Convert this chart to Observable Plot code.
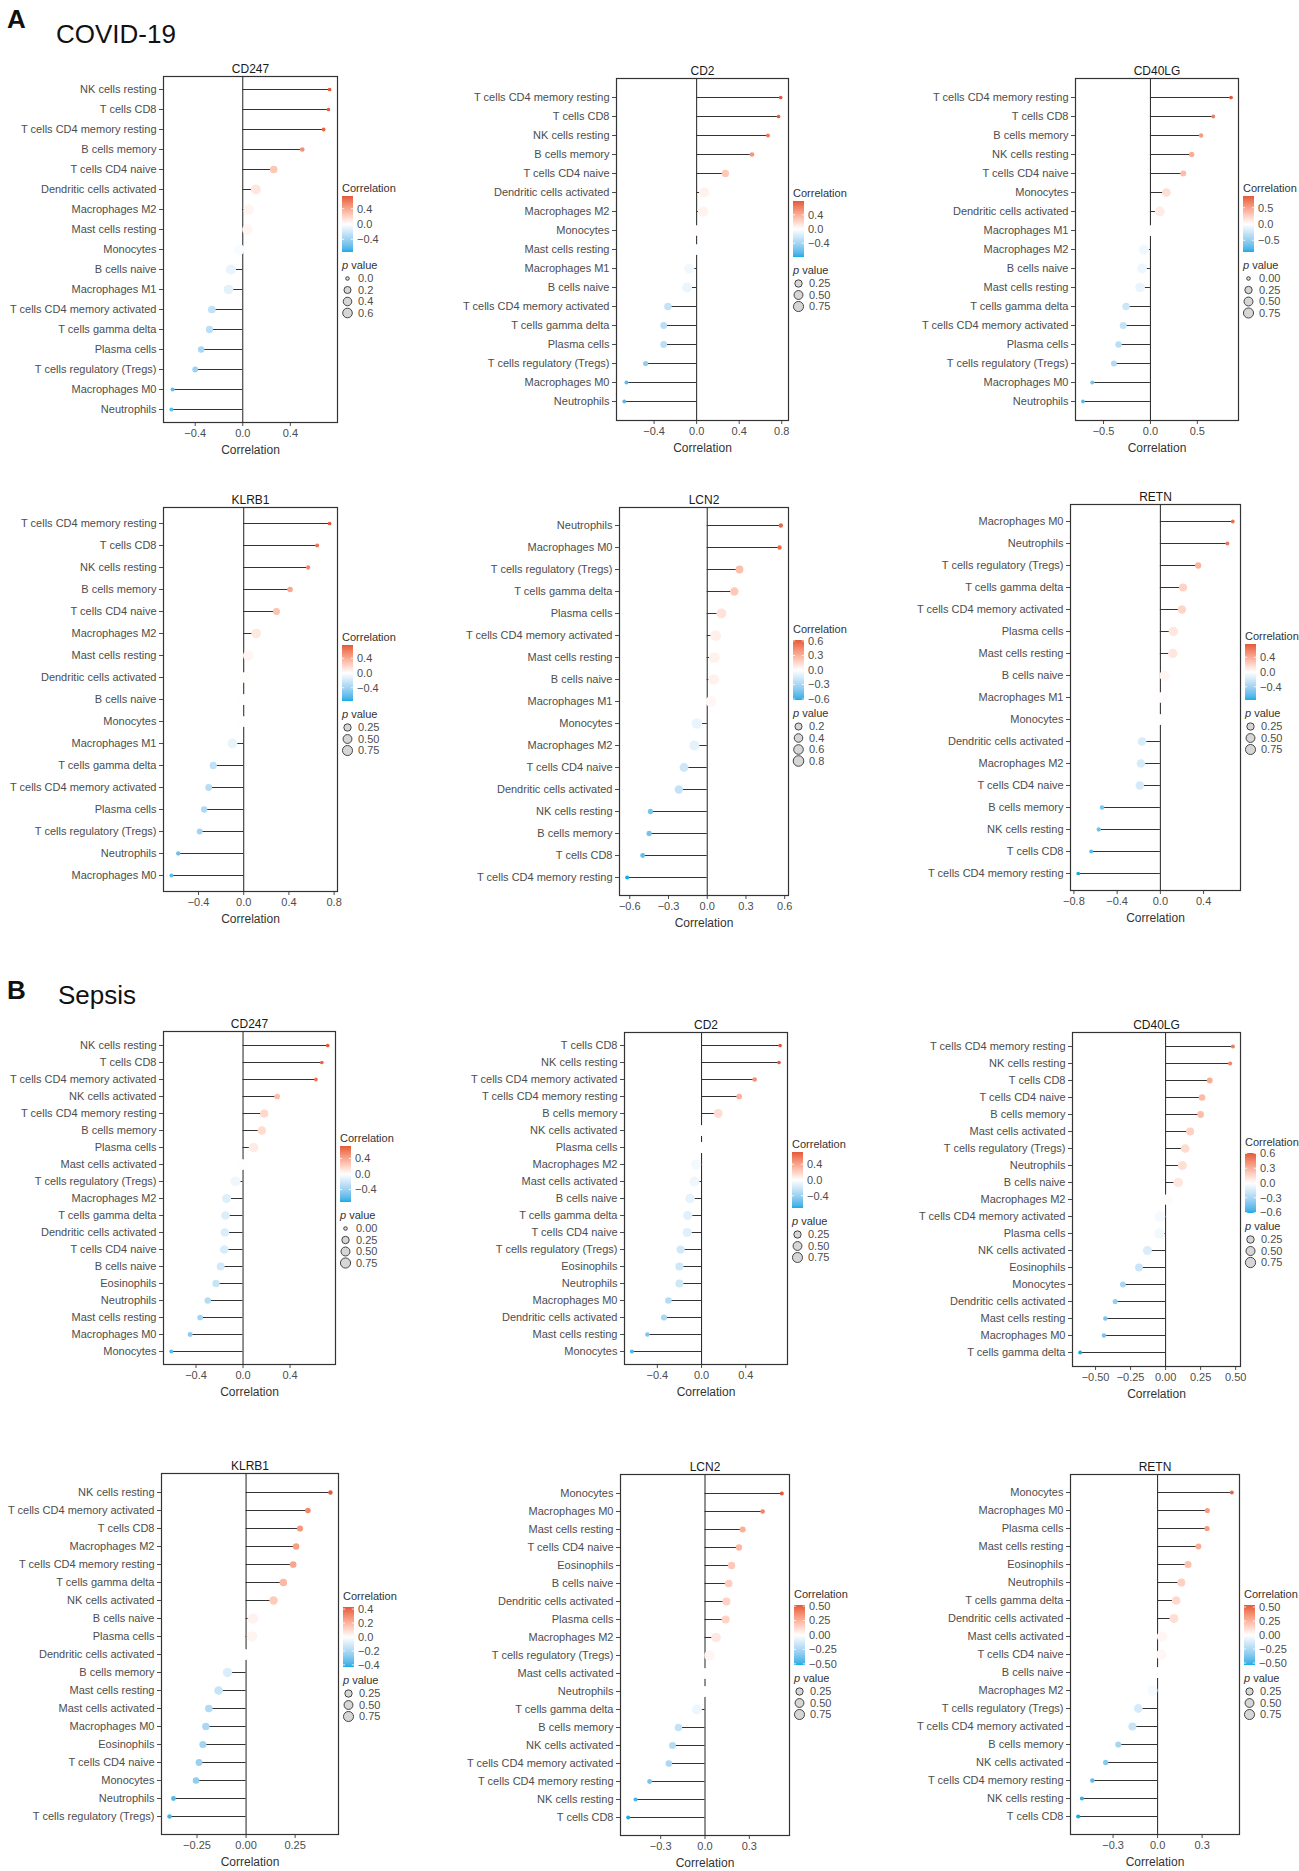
<!DOCTYPE html>
<html><head><meta charset="utf-8">
<script src="https://cdn.jsdelivr.net/npm/d3@7"></script>
<script src="https://cdn.jsdelivr.net/npm/@observablehq/plot@0.6"></script>
<style>
body{margin:0;background:#fff;}
#root{position:relative;width:1299px;height:1871px;font-family:"Liberation Sans",Arial,sans-serif;overflow:hidden;}
.abs{position:absolute;}
.head{position:absolute;color:#111;line-height:1;white-space:nowrap;}
</style></head><body><div id="root"></div>
<script>
// ---------------- DATA ----------------
// COVID-19
const covid_CD247_cells = ["NK cells resting","T cells CD8","T cells CD4 memory resting","B cells memory","T cells CD4 naive","Dendritic cells activated","Macrophages M2","Mast cells resting","Monocytes","B cells naive","Macrophages M1","T cells CD4 memory activated","T cells gamma delta","Plasma cells","T cells regulatory (Tregs)","Macrophages M0","Neutrophils"];
const covid_CD247_r = [0.73,0.72,0.68,0.50,0.26,0.11,0.05,0.04,-0.03,-0.10,-0.12,-0.26,-0.28,-0.35,-0.40,-0.59,-0.60];
const covid_CD247_p = [0.0002,0.0003,0.001,0.02,0.25,0.65,0.8,0.85,0.9,0.7,0.6,0.28,0.22,0.13,0.08,0.005,0.005];

const covid_CD2_cells = ["T cells CD4 memory resting","T cells CD8","NK cells resting","B cells memory","T cells CD4 naive","Dendritic cells activated","Macrophages M2","Monocytes","Mast cells resting","Macrophages M1","B cells naive","T cells CD4 memory activated","T cells gamma delta","Plasma cells","T cells regulatory (Tregs)","Macrophages M0","Neutrophils"];
const covid_CD2_r = [0.79,0.77,0.67,0.52,0.27,0.07,0.06,0.01,-0.01,-0.07,-0.09,-0.27,-0.31,-0.31,-0.48,-0.66,-0.68];
const covid_CD2_p = [0.0001,0.0002,0.001,0.02,0.25,0.75,0.8,0.95,0.97,0.78,0.7,0.26,0.18,0.18,0.04,0.002,0.001];

const covid_CD40LG_cells = ["T cells CD4 memory resting","T cells CD8","B cells memory","NK cells resting","T cells CD4 naive","Monocytes","Dendritic cells activated","Macrophages M1","Macrophages M2","B cells naive","Mast cells resting","T cells gamma delta","T cells CD4 memory activated","Plasma cells","T cells regulatory (Tregs)","Macrophages M0","Neutrophils"];
const covid_CD40LG_r = [0.86,0.67,0.54,0.44,0.35,0.17,0.10,0.01,-0.07,-0.09,-0.11,-0.26,-0.29,-0.34,-0.39,-0.62,-0.72];
const covid_CD40LG_p = [0.0001,0.001,0.01,0.05,0.1,0.45,0.68,0.97,0.78,0.7,0.65,0.26,0.21,0.14,0.09,0.004,0.0005];

const covid_KLRB1_cells = ["T cells CD4 memory resting","T cells CD8","NK cells resting","B cells memory","T cells CD4 naive","Macrophages M2","Mast cells resting","Dendritic cells activated","B cells naive","Monocytes","Macrophages M1","T cells gamma delta","T cells CD4 memory activated","Plasma cells","T cells regulatory (Tregs)","Neutrophils","Macrophages M0"];
const covid_KLRB1_r = [0.76,0.65,0.57,0.41,0.29,0.11,0.04,0.01,-0.005,-0.01,-0.10,-0.27,-0.31,-0.35,-0.39,-0.58,-0.64];
const covid_KLRB1_p = [0.0002,0.002,0.008,0.07,0.2,0.65,0.85,0.96,0.98,0.97,0.68,0.25,0.18,0.13,0.09,0.008,0.003];

const covid_LCN2_cells = ["Neutrophils","Macrophages M0","T cells regulatory (Tregs)","T cells gamma delta","Plasma cells","T cells CD4 memory activated","Mast cells resting","B cells naive","Macrophages M1","Monocytes","Macrophages M2","T cells CD4 naive","Dendritic cells activated","NK cells resting","B cells memory","T cells CD8","T cells CD4 memory resting"];
const covid_LCN2_r = [0.57,0.56,0.25,0.21,0.11,0.065,0.055,0.05,0.03,-0.08,-0.10,-0.18,-0.22,-0.44,-0.45,-0.50,-0.62];
const covid_LCN2_p = [0.01,0.01,0.29,0.38,0.65,0.8,0.82,0.84,0.9,0.75,0.68,0.45,0.36,0.05,0.045,0.025,0.004];

const covid_RETN_cells = ["Macrophages M0","Neutrophils","T cells regulatory (Tregs)","T cells gamma delta","T cells CD4 memory activated","Plasma cells","Mast cells resting","B cells naive","Macrophages M1","Monocytes","Dendritic cells activated","Macrophages M2","T cells CD4 naive","B cells memory","NK cells resting","T cells CD8","T cells CD4 memory resting"];
const covid_RETN_r = [0.67,0.62,0.35,0.21,0.20,0.12,0.115,0.04,0.01,-0.005,-0.17,-0.18,-0.19,-0.54,-0.57,-0.64,-0.76];
const covid_RETN_p = [0.001,0.003,0.13,0.37,0.4,0.6,0.61,0.86,0.95,0.98,0.47,0.45,0.42,0.013,0.009,0.003,0.0002];

// Sepsis
const sepsis_CD247_cells = ["NK cells resting","T cells CD8","T cells CD4 memory activated","NK cells activated","T cells CD4 memory resting","B cells memory","Plasma cells","Mast cells activated","T cells regulatory (Tregs)","Macrophages M2","T cells gamma delta","Dendritic cells activated","T cells CD4 naive","B cells naive","Eosinophils","Neutrophils","Mast cells resting","Macrophages M0","Monocytes"];
const sepsis_CD247_r = [0.72,0.67,0.62,0.29,0.18,0.16,0.09,-0.01,-0.065,-0.14,-0.15,-0.155,-0.16,-0.19,-0.23,-0.30,-0.365,-0.45,-0.61];
const sepsis_CD247_p = [0.0001,0.0002,0.0005,0.08,0.35,0.42,0.62,0.95,0.75,0.5,0.45,0.44,0.43,0.32,0.25,0.14,0.08,0.03,0.003];

const sepsis_CD2_cells = ["T cells CD8","NK cells resting","T cells CD4 memory activated","T cells CD4 memory resting","B cells memory","NK cells activated","Plasma cells","Macrophages M2","Mast cells activated","B cells naive","T cells gamma delta","T cells CD4 naive","T cells regulatory (Tregs)","Eosinophils","Neutrophils","Macrophages M0","Dendritic cells activated","Mast cells resting","Monocytes"];
const sepsis_CD2_r = [0.71,0.70,0.48,0.34,0.15,0.003,-0.003,-0.05,-0.065,-0.105,-0.125,-0.13,-0.19,-0.20,-0.20,-0.30,-0.34,-0.49,-0.63];
const sepsis_CD2_p = [0.0001,0.0001,0.02,0.08,0.5,0.99,0.98,0.82,0.77,0.63,0.57,0.56,0.39,0.37,0.37,0.16,0.12,0.02,0.003];

const sepsis_CD40LG_cells = ["T cells CD4 memory resting","NK cells resting","T cells CD8","T cells CD4 naive","B cells memory","Mast cells activated","T cells regulatory (Tregs)","Neutrophils","B cells naive","Macrophages M2","T cells CD4 memory activated","Plasma cells","NK cells activated","Eosinophils","Monocytes","Dendritic cells activated","Mast cells resting","Macrophages M0","T cells gamma delta"];
const sepsis_CD40LG_r = [0.48,0.46,0.315,0.26,0.25,0.175,0.14,0.12,0.09,0.015,-0.04,-0.045,-0.13,-0.19,-0.305,-0.36,-0.43,-0.44,-0.61];
const sepsis_CD40LG_p = [0.005,0.007,0.08,0.15,0.17,0.33,0.43,0.5,0.62,0.92,0.82,0.8,0.48,0.3,0.08,0.04,0.015,0.012,0.0005];

const sepsis_KLRB1_cells = ["NK cells resting","T cells CD4 memory activated","T cells CD8","Macrophages M2","T cells CD4 memory resting","T cells gamma delta","NK cells activated","B cells naive","Plasma cells","Dendritic cells activated","B cells memory","Mast cells resting","Mast cells activated","Macrophages M0","Eosinophils","T cells CD4 naive","Monocytes","Neutrophils","T cells regulatory (Tregs)"];
const sepsis_KLRB1_r = [0.43,0.315,0.275,0.255,0.24,0.19,0.14,0.035,0.03,-0.005,-0.095,-0.14,-0.19,-0.205,-0.22,-0.24,-0.255,-0.37,-0.39];
const sepsis_KLRB1_p = [0.01,0.07,0.12,0.15,0.17,0.28,0.42,0.85,0.87,0.98,0.6,0.45,0.29,0.26,0.23,0.19,0.16,0.03,0.02];

const sepsis_LCN2_cells = ["Monocytes","Macrophages M0","Mast cells resting","T cells CD4 naive","Eosinophils","B cells naive","Dendritic cells activated","Plasma cells","Macrophages M2","T cells regulatory (Tregs)","Mast cells activated","Neutrophils","T cells gamma delta","B cells memory","NK cells activated","T cells CD4 memory activated","T cells CD4 memory resting","NK cells resting","T cells CD8"];
const sepsis_LCN2_r = [0.52,0.39,0.255,0.23,0.18,0.16,0.145,0.14,0.075,0.03,0.003,-0.003,-0.055,-0.18,-0.22,-0.245,-0.375,-0.47,-0.52];
const sepsis_LCN2_p = [0.002,0.02,0.11,0.13,0.26,0.3,0.34,0.36,0.65,0.85,0.97,0.99,0.72,0.27,0.19,0.15,0.03,0.005,0.002];

const sepsis_RETN_cells = ["Monocytes","Macrophages M0","Plasma cells","Mast cells resting","Eosinophils","Neutrophils","T cells gamma delta","Dendritic cells activated","Mast cells activated","T cells CD4 naive","B cells naive","Macrophages M2","T cells regulatory (Tregs)","T cells CD4 memory activated","B cells memory","NK cells activated","T cells CD4 memory resting","NK cells resting","T cells CD8"];
const sepsis_RETN_r = [0.50,0.335,0.333,0.275,0.205,0.16,0.125,0.11,0.03,0.025,0.0,-0.035,-0.13,-0.17,-0.265,-0.35,-0.44,-0.51,-0.535];
const sepsis_RETN_p = [0.003,0.04,0.045,0.09,0.22,0.35,0.45,0.5,0.85,0.88,0.99,0.82,0.48,0.35,0.12,0.05,0.015,0.005,0.003];

// Tick labels
const xTicks = {
  cCD247:[-0.4,0,0.4], cCD2:[-0.4,0,0.4,0.8], cCD40LG:[-0.5,0,0.5],
  cKLRB1:[-0.4,0,0.4,0.8], cLCN2:[-0.6,-0.3,0,0.3,0.6], cRETN:[-0.8,-0.4,0,0.4],
  sCD247:[-0.4,0,0.4], sCD2:[-0.4,0,0.4], sCD40LG:[-0.5,-0.25,0,0.25,0.5],
  sKLRB1:[-0.25,0,0.25], sLCN2:[-0.3,0,0.3], sRETN:[-0.3,0,0.3]
};
const colorTicks = {
  cCD247:[0.4,0,-0.4], cCD2:[0.4,0,-0.4], cCD40LG:[0.5,0,-0.5],
  cKLRB1:[0.4,0,-0.4], cLCN2:[0.6,0.3,0,-0.3,-0.6], cRETN:[0.4,0,-0.4],
  sCD247:[0.4,0,-0.4], sCD2:[0.4,0,-0.4], sCD40LG:[0.6,0.3,0,-0.3,-0.6],
  sKLRB1:[0.4,0.2,0,-0.2,-0.4], sLCN2:[0.5,0.25,0,-0.25,-0.5], sRETN:[0.5,0.25,0,-0.25,-0.5]
};
const sizeTicks = {
  cCD247:[0,0.2,0.4,0.6], cCD2:[0.25,0.5,0.75], cCD40LG:[0,0.25,0.5,0.75],
  cKLRB1:[0.25,0.5,0.75], cLCN2:[0.2,0.4,0.6,0.8], cRETN:[0.25,0.5,0.75],
  sCD247:[0,0.25,0.5,0.75], sCD2:[0.25,0.5,0.75], sCD40LG:[0.25,0.5,0.75],
  sKLRB1:[0.25,0.5,0.75], sLCN2:[0.25,0.5,0.75], sRETN:[0.25,0.5,0.75]
};

// ---------------- LAYOUT ----------------
const panels = [
  {id:"cCD247", title:"CD247", cells:covid_CD247_cells, r:covid_CD247_r, p:covid_CD247_p, col:0, L:163,R:337,T:76,B:422, legY:188, xf:".1f", cf:".1f", sf:".1f"},
  {id:"cCD2", title:"CD2", cells:covid_CD2_cells, r:covid_CD2_r, p:covid_CD2_p, col:453, L:616,R:788,T:78,B:420, legY:193, xf:".1f", cf:".1f", sf:".2f"},
  {id:"cCD40LG", title:"CD40LG", cells:covid_CD40LG_cells, r:covid_CD40LG_r, p:covid_CD40LG_p, col:858, L:1075,R:1238,T:78,B:420, legY:188, xf:".1f", cf:".1f", sf:".2f"},
  {id:"cKLRB1", title:"KLRB1", cells:covid_KLRB1_cells, r:covid_KLRB1_r, p:covid_KLRB1_p, col:0, L:163,R:337,T:507,B:891, legY:637, xf:".1f", cf:".1f", sf:".2f"},
  {id:"cLCN2", title:"LCN2", cells:covid_LCN2_cells, r:covid_LCN2_r, p:covid_LCN2_p, col:453, L:619,R:788,T:507,B:895, legY:629, xf:".1f", cf:".1f", sf:".1f"},
  {id:"cRETN", title:"RETN", cells:covid_RETN_cells, r:covid_RETN_r, p:covid_RETN_p, col:858, L:1070,R:1240,T:504,B:890, legY:636, xf:".1f", cf:".1f", sf:".2f"},
  {id:"sCD247", title:"CD247", cells:sepsis_CD247_cells, r:sepsis_CD247_r, p:sepsis_CD247_p, col:0, L:163,R:335,T:1031,B:1364, legY:1138, xf:".1f", cf:".1f", sf:".2f"},
  {id:"sCD2", title:"CD2", cells:sepsis_CD2_cells, r:sepsis_CD2_r, p:sepsis_CD2_p, col:453, L:624,R:787,T:1032,B:1364, legY:1144, xf:".1f", cf:".1f", sf:".2f"},
  {id:"sCD40LG", title:"CD40LG", cells:sepsis_CD40LG_cells, r:sepsis_CD40LG_r, p:sepsis_CD40LG_p, col:858, L:1072,R:1240,T:1032,B:1366, legY:1142, xf:".2f", cf:".1f", sf:".2f"},
  {id:"sKLRB1", title:"KLRB1", cells:sepsis_KLRB1_cells, r:sepsis_KLRB1_r, p:sepsis_KLRB1_p, col:0, L:161,R:338,T:1473,B:1834, legY:1596, xf:".2f", cf:".1f", sf:".2f"},
  {id:"sLCN2", title:"LCN2", cells:sepsis_LCN2_cells, r:sepsis_LCN2_r, p:sepsis_LCN2_p, col:453, L:620,R:789,T:1474,B:1835, legY:1594, xf:".1f", cf:".2f", sf:".2f"},
  {id:"sRETN", title:"RETN", cells:sepsis_RETN_cells, r:sepsis_RETN_r, p:sepsis_RETN_p, col:858, L:1070,R:1239,T:1474,B:1834, legY:1594, xf:".1f", cf:".2f", sf:".2f"}
];

const LOW = "#15ADE6", HIGH = "#E4593A";
const lowI = d3.interpolateLab(LOW, "#ffffff");
const highI = d3.interpolateLab("#ffffff", HIGH);
const interp = t => t < 0.5 ? lowI(t * 2) : highI((t - 0.5) * 2);
const FONT = "'Liberation Sans', Arial, Helvetica, sans-serif";

const root = document.getElementById("root");

function head(letter, label, x, yLetter, yLabel) {
  const a = document.createElement("div");
  a.className = "head"; a.textContent = letter;
  a.style.cssText += `left:7px;top:${yLetter}px;font:bold 26px ${FONT};`;
  root.appendChild(a);
  const b = document.createElement("div");
  b.className = "head"; b.textContent = label;
  b.style.cssText += `left:${x}px;top:${yLabel}px;font:26px ${FONT};`;
  root.appendChild(b);
}
head("A", "COVID-19", 56, 4, 19);
head("B", "Sepsis", 58, 975, 980);

function drawPanel(cfg) {
  const data = cfg.cells.map((c, i) => ({cell: c, corr: cfg.r[i], pval: cfg.p[i]}));
  const ext = d3.extent([0, ...cfg.r]);
  const pad = (ext[1] - ext[0]) * 0.05;
  const M = d3.max(cfg.r, Math.abs);
  const top = cfg.T - 30;
  const mL = cfg.L - cfg.col, mT = cfg.T - top, mB = 46;
  const width = cfg.R - cfg.col + 2;
  const height = (cfg.B - cfg.T) + mT + mB;
  const plot = Plot.plot({
    width, height,
    marginLeft: mL, marginRight: 2, marginTop: mT, marginBottom: mB,
    style: {fontFamily: FONT, fontSize: "11px", color: "#4d4d4d", background: "none", overflow: "visible"},
    x: {domain: [ext[0] - pad, ext[1] + pad], ticks: xTicks[cfg.id], tickFormat: d3.format(cfg.xf), tickSize: 4, tickPadding: 2.5, label: null},
    y: {type: "point", domain: cfg.cells, padding: 0.6, tickSize: 4, tickPadding: 3, label: null},
    r: {type: "sqrt", domain: [0, d3.max(cfg.p)], range: [1.8, 5.5]},
    color: {type: "linear", domain: [-M, M], interpolate: interp},
    marks: [
      Plot.ruleX([0], {stroke: "#222", strokeWidth: 1}),
      Plot.ruleY(data, {y: "cell", x1: 0, x2: "corr", stroke: "#333", strokeWidth: 1}),
      Plot.dot(data, {x: "corr", y: "cell", r: "pval", fill: "corr"}),
      Plot.frame({stroke: "#333", strokeWidth: 1.2}),
      Plot.text([cfg.title], {text: d => d, frameAnchor: "top", lineAnchor: "bottom", dy: -4, fontSize: 12, fill: "#1a1a1a"}),
      Plot.text(["Correlation"], {text: d => d, frameAnchor: "bottom", lineAnchor: "middle", dy: 28, fontSize: 12, fill: "#333"})
    ]
  });
  plot.classList.add("abs");
  plot.style.left = cfg.col + "px";
  plot.style.top = top + "px";
  root.appendChild(plot);

  // legends
  const cs = plot.scale("color"), rs = plot.scale("r");
  const lx = cfg.R + 5, oy = cfg.legY - 10;
  const svg = d3.create("svg").attr("width", 80).attr("height", 190)
    .style("position", "absolute").style("left", (lx - 2) + "px").style("top", oy + "px")
    .style("overflow", "visible").style("font-family", FONT);
  const g = svg.append("g").attr("transform", "translate(2,0)");
  g.append("text").attr("x", 0).attr("y", 10).attr("dy", "0.35em").attr("font-size", 11).attr("fill", "#333").text("Correlation");
  const nC = colorTicks[cfg.id].length;
  const barTop = nC >= 5 ? 21 : 18, barH = nC >= 5 ? 60 : 56, barW = 11;
  const gid = "grad_" + cfg.id;
  const grad = svg.append("defs").append("linearGradient").attr("id", gid)
    .attr("x1", 0).attr("x2", 0).attr("y1", 1).attr("y2", 0);
  for (let i = 0; i <= 24; i++) {
    const t = i / 24;
    grad.append("stop").attr("offset", t).attr("stop-color", cs.apply(-M + 2 * M * t));
  }
  g.append("rect").attr("x", 0).attr("y", barTop).attr("width", barW).attr("height", barH).attr("fill", `url(#${gid})`);
  const vy = v => barTop + (M - v) / (2 * M) * barH;
  const cf = d3.format(cfg.cf);
  for (const v of colorTicks[cfg.id]) {
    const y = vy(v);
    g.append("line").attr("x1", 0).attr("x2", 2.2).attr("y1", y).attr("y2", y).attr("stroke", "#fff").attr("stroke-width", 0.8);
    g.append("line").attr("x1", barW - 2.2).attr("x2", barW).attr("y1", y).attr("y2", y).attr("stroke", "#fff").attr("stroke-width", 0.8);
    g.append("text").attr("x", barW + 4).attr("y", y).attr("dy", "0.35em").attr("font-size", 11).attr("fill", "#4d4d4d").text(cf(v));
  }
  const pT = barTop + barH + 13.5;
  const pt = g.append("text").attr("x", 0).attr("y", pT).attr("dy", "0.35em").attr("font-size", 11).attr("fill", "#333");
  pt.append("tspan").attr("font-style", "italic").text("p");
  pt.append("tspan").text(" value");
  const sf = d3.format(cfg.sf);
  sizeTicks[cfg.id].forEach((v, i) => {
    const y = pT + 13 + i * 11.5;
    g.append("circle").attr("cx", 5.5).attr("cy", y).attr("r", rs.apply(v)).attr("fill", "#d6d6d6").attr("stroke", "#333").attr("stroke-width", 0.9);
    g.append("text").attr("x", 16).attr("y", y).attr("dy", "0.35em").attr("font-size", 11).attr("fill", "#4d4d4d").text(sf(v));
  });
  root.appendChild(svg.node());
}
panels.forEach(drawPanel);
</script></body></html>
